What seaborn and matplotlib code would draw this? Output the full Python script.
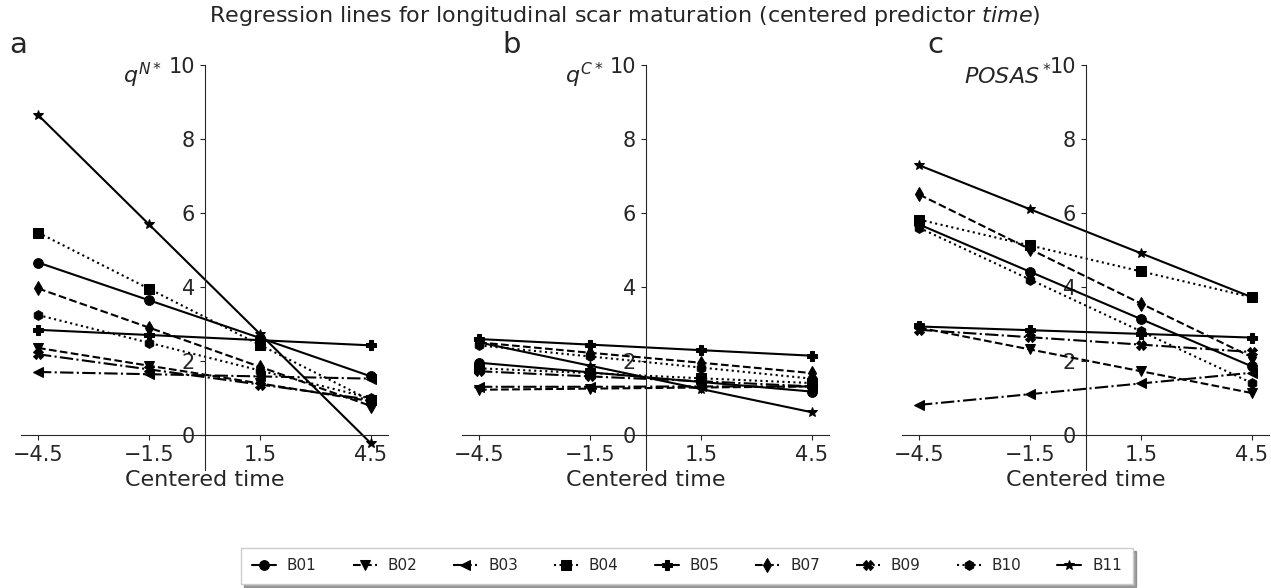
import matplotlib
matplotlib.use("Agg")
import matplotlib.pyplot as plt
import seaborn as sns

#%% Dados
tempo = [-4.5, -1.5, 1.5, 4.5]
sujeitos = ["B01", "B02", "B03", "B04", "B05", "B07", "B09", "B10", "B11"]

qN = {
    "B01": [4.66, 3.64, 2.62, 1.58],
    "B02": [2.35, 1.87, 1.39, 0.91],
    "B03": [1.70, 1.64, 1.58, 1.52],
    "B04": [5.47, 3.95, 2.43, 0.93],
    "B05": [2.84, 2.70, 2.56, 2.42],
    "B07": [3.96, 2.90, 1.84, 0.78],
    "B09": [2.18, 1.77, 1.36, 0.95],
    "B10": [3.24, 2.49, 1.74, 0.99],
    "B11": [8.65, 5.69, 2.73, -0.23],
}
qC = {
    "B01": [1.95, 1.69, 1.43, 1.17],
    "B02": [1.22, 1.25, 1.28, 1.31],
    "B03": [1.30, 1.30, 1.31, 1.31],
    "B04": [1.80, 1.67, 1.53, 1.40],
    "B05": [2.59, 2.44, 2.29, 2.14],
    "B07": [2.50, 2.22, 1.95, 1.67],
    "B09": [1.72, 1.58, 1.45, 1.31],
    "B10": [2.42, 2.12, 1.82, 1.52],
    "B11": [2.50, 1.87, 1.24, 0.61],
}
posas = {
    "B01": [5.69, 4.41, 3.13, 1.85],
    "B02": [2.90, 2.31, 1.72, 1.13],
    "B03": [0.81, 1.10, 1.39, 1.68],
    "B04": [5.82, 5.12, 4.42, 3.72],
    "B05": [2.93, 2.83, 2.73, 2.63],
    "B07": [6.50, 5.02, 3.55, 2.10],
    "B09": [2.84, 2.64, 2.44, 2.24],
    "B10": [5.60, 4.20, 2.80, 1.40],
    "B11": [7.29, 6.10, 4.91, 3.72],
}

paineis = [("a", r"$q^{N*}$", qN), ("b", r"$q^{C*}$", qC), ("c", r"$POSAS^*$", posas)]

marcadores = {"B01": "o", "B02": "v", "B03": "<", "B04": "s", "B05": "P",
              "B07": "d", "B09": "X", "B10": "h", "B11": "*"}
estilos = {"B01": "-", "B02": "--", "B03": "-.", "B04": ":", "B05": "-",
           "B07": "--", "B09": "-.", "B10": ":", "B11": "-"}

#%% Gráfico
sns.set_style("ticks")
plt.rcParams["font.family"] = ["DejaVu Sans"]

fig = plt.figure(figsize=(12.71, 5.88), dpi=100)
lefts = [21, 462, 902]
letra_x = [18, 512, 935]
ylab_x = [0.385, 0.385, 0.41]

for i, (letra, ylab, dados) in enumerate(paineis):
    ax = fig.add_axes([lefts[i] / 1271, 118 / 588, 367 / 1271, 405 / 588])
    for s in sujeitos:
        sns.lineplot(x=tempo, y=dados[s], ax=ax, color="black", marker=marcadores[s],
                     linestyle=estilos[s], linewidth=1.5, markersize=7,
                     markeredgecolor="black", label=s, legend=False)
    ax.set_xlim(-4.96, 4.96)
    ax.set_ylim(-0.95, 10)
    ax.set_xticks(tempo)
    ax.set_xticklabels(["\u22124.5", "\u22121.5", "1.5", "4.5"])
    ax.set_yticks(range(0, 11, 2))
    ax.tick_params(labelsize=15)
    ax.spines["left"].set_position("zero")
    ax.spines["bottom"].set_position("zero")
    ax.spines["top"].set_visible(False)
    ax.spines["right"].set_visible(False)
    ax.set_xlabel("Centered time", fontsize=16)
    ax.set_ylabel(ylab, rotation=0, fontsize=16, ha="right", va="center")
    ax.yaxis.set_label_coords(ylab_x[i], 0.975)
    fig.text(letra_x[i] / 1271, 1 - 45 / 588, letra, fontsize=21, ha="center", va="center")

fig.text(625 / 1271, 1 - 16 / 588,
         r"Regression lines for longitudinal scar maturation (centered predictor $\mathit{time}$)",
         fontsize=16, ha="center", va="center")

handles, labels = fig.axes[0].get_legend_handles_labels()
fig.legend(handles, labels, loc="center", bbox_to_anchor=(687 / 1271, 1 - 566 / 588), ncol=9,
           fontsize=11, handlelength=1.57, handletextpad=0.72, columnspacing=2.35,
           borderpad=0.7, shadow=True, fancybox=False, edgecolor="#cccccc")

plt.savefig("out.png", dpi=100)
